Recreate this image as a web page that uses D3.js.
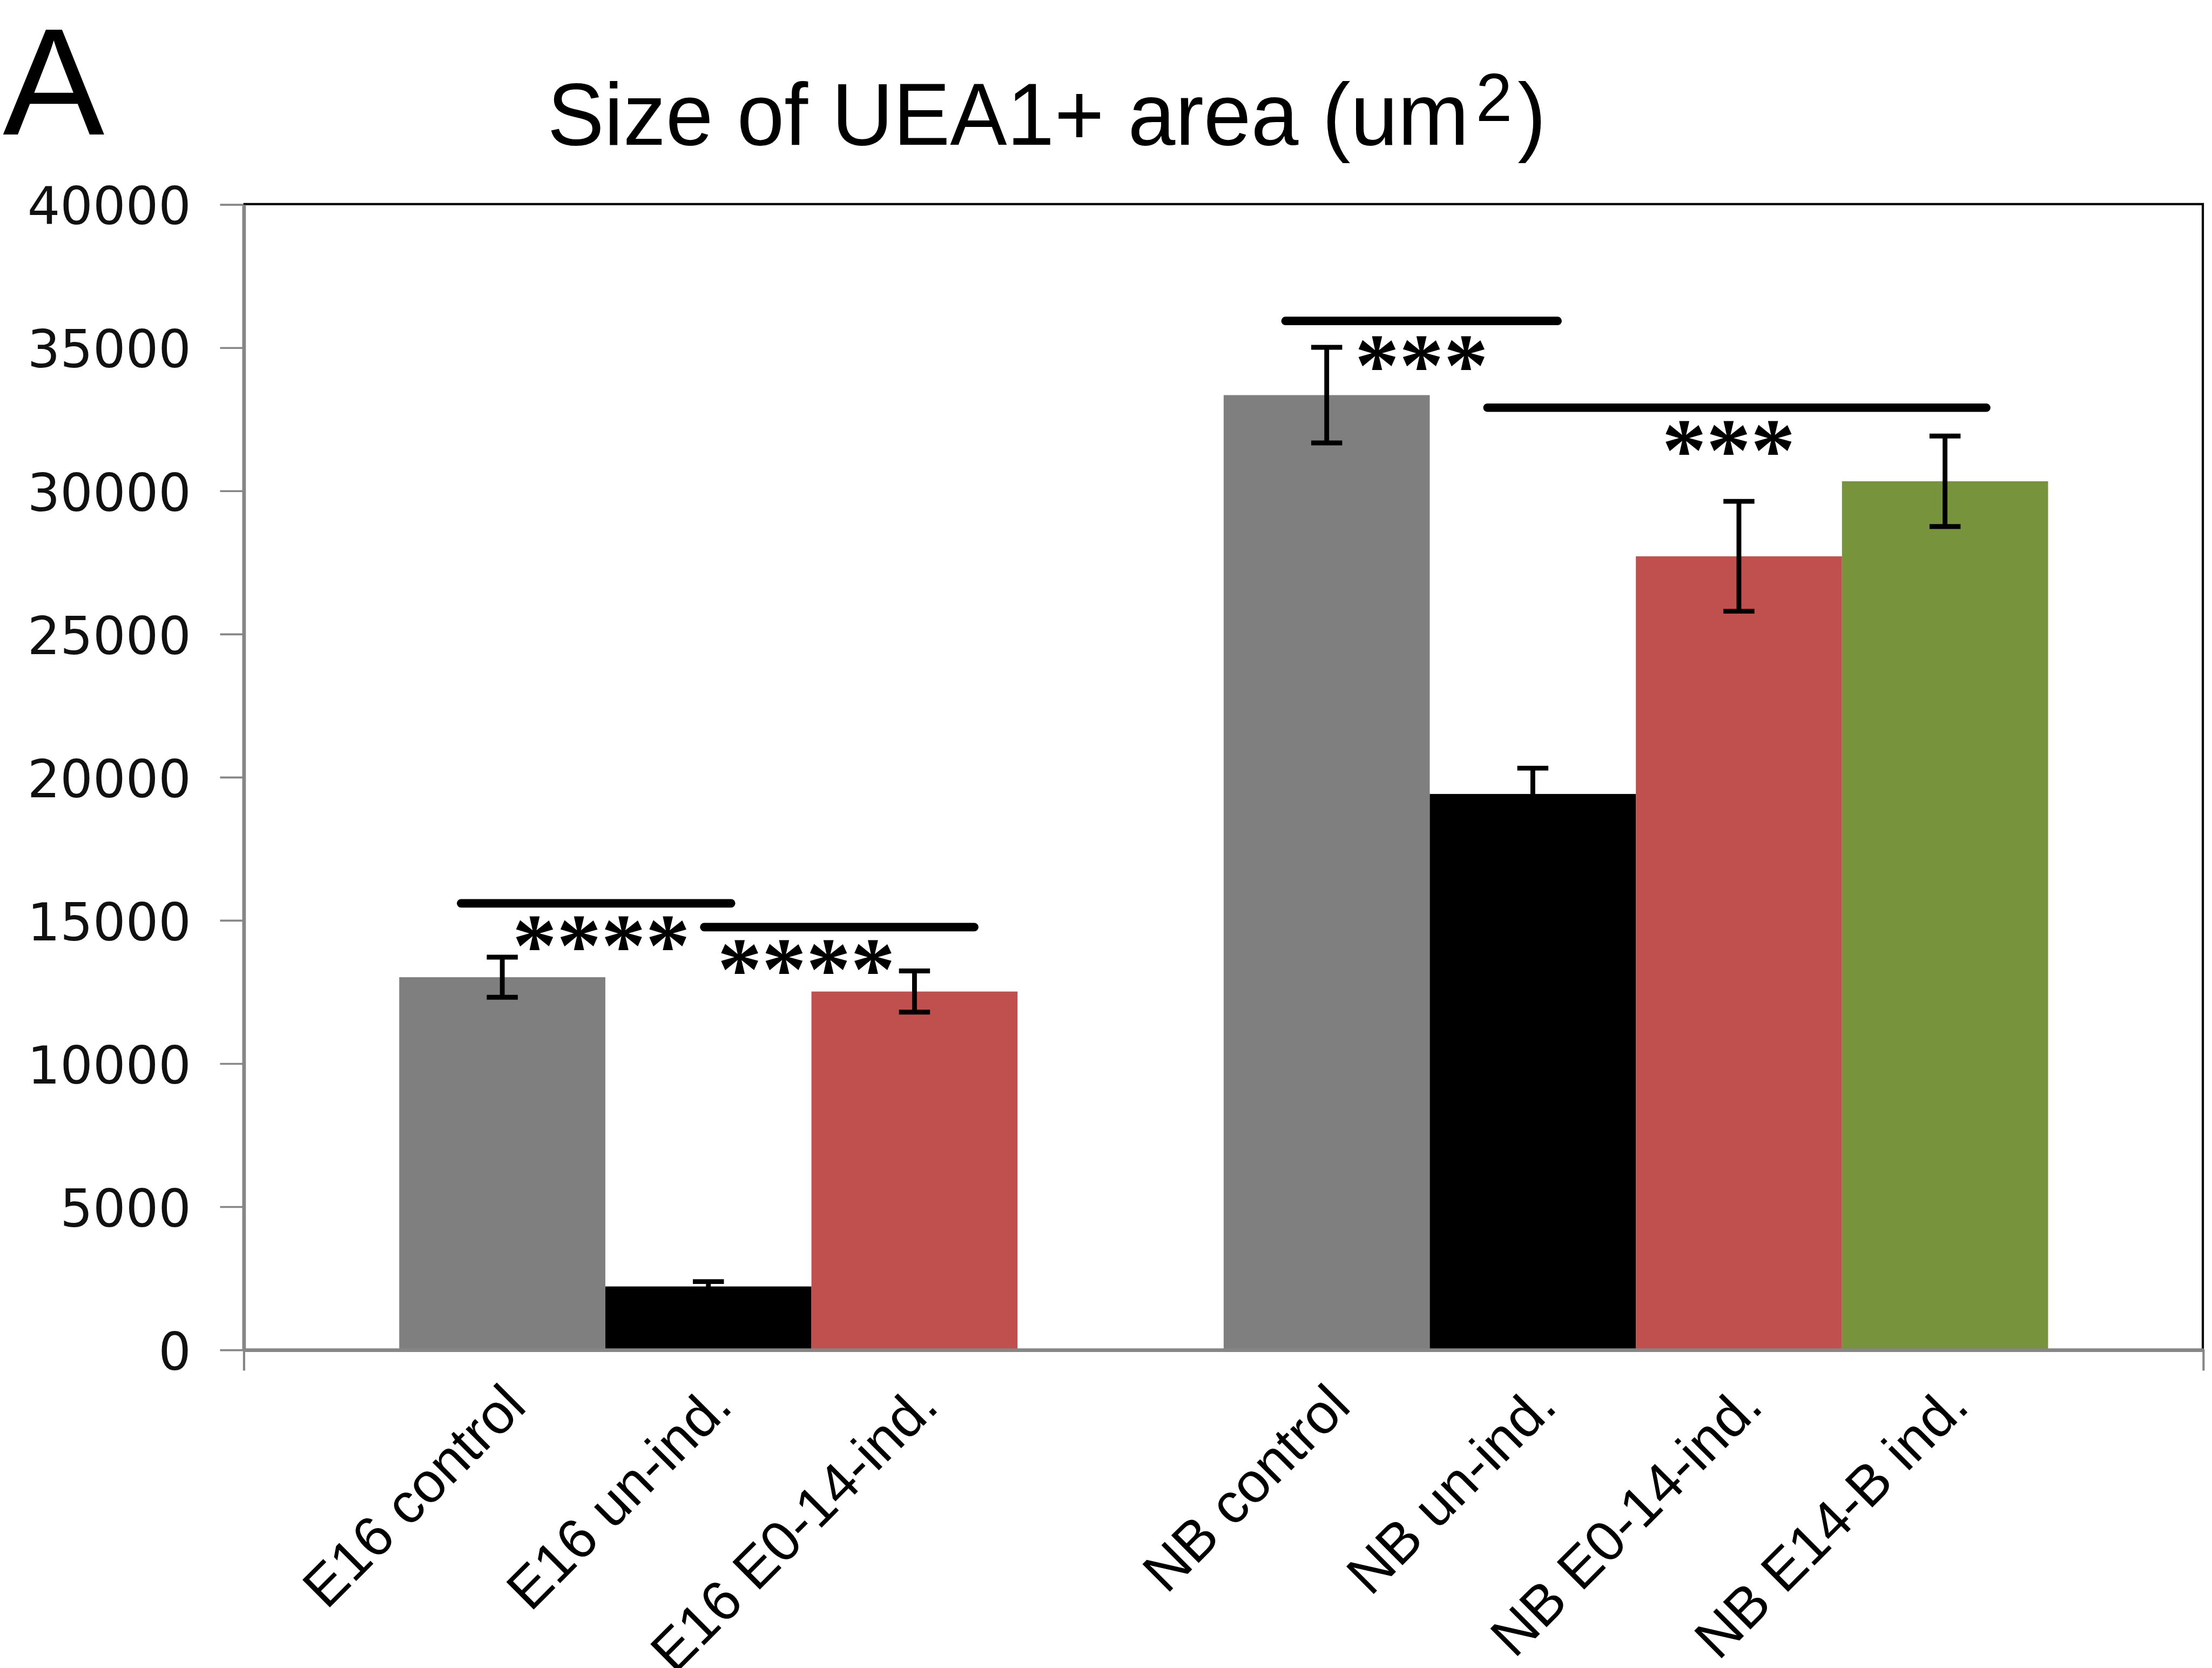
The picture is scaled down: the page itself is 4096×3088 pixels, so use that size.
<!DOCTYPE html>
<html>
<head>
<meta charset="utf-8">
<script src="https://cdn.jsdelivr.net/npm/d3@7/dist/d3.min.js"></script>
<style>
  html, body { margin: 0; padding: 0; background: #fff; }
  svg { display: block; }
</style>
</head>
<body>
<div id="chart"></div>
<script>
// values
const e16Labels = ['E16 control', 'E16 un-ind.', 'E16 E0-14-ind.'];
const nbLabels = ['NB control', 'NB un-ind.', 'NB E0-14-ind.', 'NB E14-B ind.'];
const means = [13000, 2200, 12500, 33330, 19400, 27700, 30320];
const errors = [700, 170, 720, 1670, 900, 1920, 1580];
const barColors = ['#7f7f7f', '#000000', '#c0504d', '#7f7f7f', '#000000', '#c0504d', '#77933c'];
const yTicks = [0, 5000, 10000, 15000, 20000, 25000, 30000, 35000, 40000];

// significance bars: span in bar slots, height in data units
const brackets = [
  { from: 0.30, to: 1.61, level: 15580 },
  { from: 1.48, to: 2.79, level: 14750 },
  { from: 4.30, to: 5.62, level: 35920 },
  { from: 5.28, to: 7.70, level: 32890 }
];
const stars = [
  { text: '****', at: 0.98, level: 13050 },
  { text: '****', at: 1.975, level: 12230 },
  { text: '***', at: 4.96, level: 33320 },
  { text: '***', at: 6.45, level: 30350 }
];

const labels = [...e16Labels, ...nbLabels];
const bars = labels.map((l, i) => ({ label: l, mean: means[i], err: errors[i], color: barColors[i] }));

// drawing units follow the reference, the viewBox scales it to the window
const W = 1568, H = 1182;
const margin = { top: 144.6, right: 6.5, bottom: 225.7, left: 172.5 };

const svg = d3.select('#chart')
  .append('svg')
  .attr('width', 4096)
  .attr('height', 3088)
  .attr('viewBox', `0 0 ${W} ${H}`);

const plotBottom = H - margin.bottom;
const plotRight = W - margin.right;

const y = d3.scaleLinear().domain([0, 40000]).range([plotBottom, margin.top]);

// one empty slot between the two groups
const slots = [...e16Labels, ' ', ...nbLabels];
const x = d3.scaleBand().domain(slots).range([283, 1451.8]).padding(0);
const xAt = f => x.range()[0] + f * x.step();
const xFrame = d3.scaleLinear().domain([0, 1]).range([margin.left, plotRight]);

// bars
svg.append('g')
  .selectAll('rect')
  .data(bars)
  .join('rect')
  .attr('x', d => x(d.label))
  .attr('y', d => y(d.mean))
  .attr('width', x.bandwidth())
  .attr('height', d => y(0) - y(d.mean))
  .attr('fill', d => d.color);

// error bars
const eb = svg.append('g').attr('stroke', '#000').attr('stroke-width', 3.4);
bars.forEach(d => {
  const cx = x(d.label) + x.bandwidth() / 2;
  eb.append('line').attr('x1', cx).attr('x2', cx).attr('y1', y(d.mean + d.err)).attr('y2', y(d.mean - d.err));
  eb.append('line').attr('x1', cx - 11).attr('x2', cx + 11).attr('y1', y(d.mean + d.err)).attr('y2', y(d.mean + d.err));
  eb.append('line').attr('x1', cx - 11).attr('x2', cx + 11).attr('y1', y(d.mean - d.err)).attr('y2', y(d.mean - d.err));
});

// frame: top and right in black
svg.append('path')
  .attr('d', `M${margin.left},${margin.top}H${plotRight}V${plotBottom}`)
  .attr('fill', 'none')
  .attr('stroke', '#000')
  .attr('stroke-width', 1.6);

// y axis
const yAxis = svg.append('g')
  .attr('transform', `translate(${margin.left},0)`)
  .call(d3.axisLeft(y).tickValues(yTicks).tickSize(16.5).tickSizeOuter(0).tickPadding(20.5).tickFormat(d3.format('d')));
yAxis.select('.domain').attr('stroke', '#868686').attr('stroke-width', 2.6);
yAxis.selectAll('.tick line').attr('stroke', '#868686').attr('stroke-width', 1.4);
yAxis.selectAll('.tick text')
  .attr('dy', '0.38em')
  .attr('fill', '#111')
  .style('font-family', '"DejaVu Sans", Verdana, sans-serif')
  .style('font-size', '36.5px');

// x axis (ticks at both ends only)
const xAxis = svg.append('g')
  .attr('transform', `translate(0,${plotBottom})`)
  .call(d3.axisBottom(xFrame).tickValues([0, 1]).tickSize(15).tickSizeOuter(0).tickFormat(''));
xAxis.select('.domain').attr('stroke', '#868686').attr('stroke-width', 2.6);
xAxis.selectAll('.tick line').attr('stroke', '#868686').attr('stroke-width', 1.6);

// category labels, rotated
svg.append('g')
  .selectAll('text')
  .data(labels)
  .join('text')
  .attr('transform', d => `translate(${x(d) + x.bandwidth() / 2 + 18.5},${plotBottom + 42}) rotate(-45)`)
  .attr('text-anchor', 'end')
  .style('font-family', '"Liberation Sans", Arial, sans-serif')
  .style('font-size', '40px')
  .text(d => d);

// significance lines and stars
svg.append('g')
  .selectAll('line')
  .data(brackets)
  .join('line')
  .attr('x1', d => xAt(d.from))
  .attr('x2', d => xAt(d.to))
  .attr('y1', d => y(d.level))
  .attr('y2', d => y(d.level))
  .attr('stroke', '#000')
  .attr('stroke-width', 6)
  .attr('stroke-linecap', 'round');

svg.append('g')
  .selectAll('text')
  .data(stars)
  .join('text')
  .attr('x', d => xAt(d.at))
  .attr('y', d => y(d.level))
  .attr('text-anchor', 'middle')
  .style('font-family', '"Liberation Serif", "Times New Roman", serif')
  .style('font-weight', 'bold')
  .style('font-size', '63px')
  .text(d => d.text);

// title and panel letter
const title = svg.append('text')
  .attr('transform', 'translate(388,102.7) scale(0.967,1)')
  .style('font-family', '"Liberation Sans", Arial, sans-serif')
  .style('font-size', '62.5px');
title.append('tspan').text('Size of UEA1+ area (um');
title.append('tspan').attr('dx', 5).attr('dy', -17).style('font-size', '48px').text('2');
title.append('tspan').attr('dx', 4).attr('dy', 17).text(')');

svg.append('text')
  .attr('x', 2)
  .attr('y', 95.3)
  .style('font-family', '"Liberation Sans", Arial, sans-serif')
  .style('font-size', '108px')
  .text('A');
</script>
</body>
</html>
